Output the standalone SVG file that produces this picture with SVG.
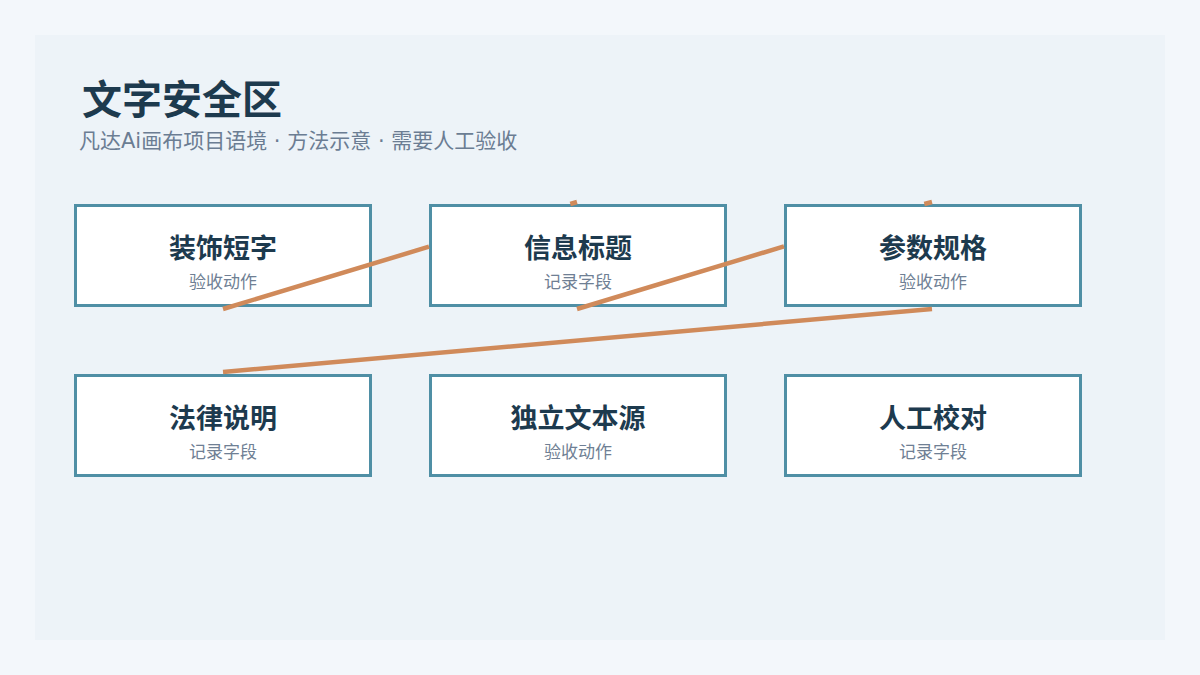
<svg xmlns="http://www.w3.org/2000/svg" width="1200" height="675" viewBox="0 0 1200 675">
<style>
.box{fill:#ffffff;stroke:#4f8fa5;stroke-width:3}
.t{font-family:"Noto Sans CJK SC","Noto Sans",sans-serif;font-weight:700;font-size:27px;fill:#1d3a4e;text-anchor:middle}
.s{font-family:"Noto Sans CJK SC","Noto Sans",sans-serif;font-size:17px;fill:#6f7f94;text-anchor:middle}
.c{stroke:#d08a5a;stroke-width:4.5;fill:none}
</style>
<rect x="0" y="0" width="1200" height="675" fill="#f3f7fb"/>
<rect x="35" y="35" width="1130" height="605" fill="#edf3f8"/>
<text x="82" y="114" font-family="'Noto Sans CJK SC',sans-serif" font-weight="700" font-size="40" fill="#1d3a4e">文字安全区</text>
<text x="79" y="148" font-family="'DejaVu Sans','Noto Sans CJK SC',sans-serif" font-size="21" fill="#6b7d93">凡达Ai画布项目语境 · 方法示意 · 需要人工验收</text>
<g id="n1"><rect class="box" x="75.5" y="205.5" width="295" height="100"/><text class="t" x="223" y="258">装饰短字</text><text class="s" x="223" y="288">验收动作</text></g>
<g id="n2"><rect class="box" x="430.5" y="205.5" width="295" height="100"/><text class="t" x="578" y="258">信息标题</text><text class="s" x="578" y="288">记录字段</text></g>
<g id="n3"><rect class="box" x="785.5" y="205.5" width="295" height="100"/><text class="t" x="933" y="258">参数规格</text><text class="s" x="933" y="288">验收动作</text></g>
<g id="n4"><rect class="box" x="75.5" y="375.5" width="295" height="100"/><text class="t" x="223" y="428">法律说明</text><text class="s" x="223" y="458">记录字段</text></g>
<g id="n5"><rect class="box" x="430.5" y="375.5" width="295" height="100"/><text class="t" x="578" y="428">独立文本源</text><text class="s" x="578" y="458">验收动作</text></g>
<g id="n6"><rect class="box" x="785.5" y="375.5" width="295" height="100"/><text class="t" x="933" y="428">人工校对</text><text class="s" x="933" y="458">记录字段</text></g>
<g id="connectors">
<path class="c" d="M223 309 L429 246.7 M570.3 204 L577 202"/>
<path class="c" d="M577 309 L784 246.4 M924.3 204 L932 202"/>
<path class="c" d="M932 309 L223 372"/>
</g>
</svg>
